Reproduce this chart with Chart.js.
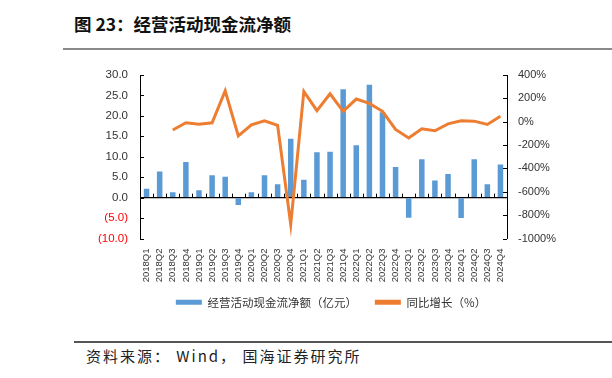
<!DOCTYPE html>
<html><head><meta charset="utf-8">
<script src="https://cdn.jsdelivr.net/npm/chart.js@4/dist/chart.umd.min.js"></script>
<style>
html,body{margin:0;padding:0;background:#fff;}
body{width:612px;height:378px;position:relative;overflow:hidden;font-family:"Noto Sans CJK SC","Noto Sans",sans-serif;}
#title{position:absolute;left:74px;top:12px;font-size:17.5px;font-weight:bold;color:#111;white-space:nowrap;line-height:24px;}
#tline{position:absolute;left:63px;top:48px;width:549px;height:2px;background:#8a8a8a;}
#fline{position:absolute;left:74px;top:341px;width:538px;height:2px;background:#555;}
#foot{position:absolute;left:86px;top:345px;font-size:15px;color:#222;white-space:nowrap;line-height:22px;letter-spacing:2px;}
#wrap{position:absolute;left:0;top:0;width:612px;height:330px;}
</style></head>
<body>
<div id="title">图 23：经营活动现金流净额</div>
<div id="tline"></div>
<div id="wrap"><canvas id="c"></canvas></div>
<div id="fline"></div>
<div id="foot">资料来源：&nbsp;Wind，&nbsp;国海证券研究所</div>
<script>
const categories = ["2018Q1","2018Q2","2018Q3","2018Q4","2019Q1","2019Q2","2019Q3","2019Q4",
  "2020Q1","2020Q2","2020Q3","2020Q4","2021Q1","2021Q2","2021Q3","2021Q4",
  "2022Q1","2022Q2","2022Q3","2022Q4","2023Q1","2023Q2","2023Q3","2023Q4",
  "2024Q1","2024Q2","2024Q3","2024Q4"];
const cashFlow = [2.2,6.4,1.3,8.7,1.8,5.5,5.1,-1.8,1.3,5.5,3.3,14.4,4.4,11.1,11.2,26.5,
  12.8,27.6,20.9,7.5,-4.9,9.4,4.2,5.8,-5.0,9.4,3.3,8.1];
const yoyGrowth = [null,null,-71,-9,-21,-9,264,-122,-26,8,-32,-879,259,95,239,89,
  194,157,89,-66,-139,-60,-77,-18,8,5,-23,47];
const leftTicks = [-10,-5,0,5,10,15,20,25,30];
const rightTicks = [-1000,-800,-600,-400,-200,0,200,400];
const seriesNames = ["经营活动现金流净额（亿元）","同比增长（%）"];

const tickMarks = {
  id:'tickMarks',
  afterDraw(chart){
    const ctx = chart.ctx, yl = chart.scales.y, yr = chart.scales.y1, xs = chart.scales.x;
    ctx.save();
    ctx.strokeStyle = '#000'; ctx.lineWidth = 1;
    ctx.beginPath();
    yl.ticks.forEach(t=>{const y=Math.round(yl.getPixelForValue(t.value))+0.5; ctx.moveTo(yl.right,y); ctx.lineTo(yl.right+4,y);});
    yr.ticks.forEach(t=>{const y=Math.round(yr.getPixelForValue(t.value))+0.5; ctx.moveTo(yr.left,y); ctx.lineTo(yr.left-4,y);});
    const y0 = yl.getPixelForValue(0);
    const half = (xs.getPixelForValue(1)-xs.getPixelForValue(0))/2;
    for(let i=0;i<=categories.length;i++){
      const x = Math.round(xs.getPixelForValue(i)-half)+0.5;
      ctx.moveTo(x,y0); ctx.lineTo(x,y0-4);
    }
    ctx.stroke();
    ctx.restore();
  }
};

new Chart(document.getElementById('c'), {
  data:{
    labels: categories,
    datasets:[
      {type:'bar', label:seriesNames[0], data:cashFlow, backgroundColor:'#5B9BD5', borderWidth:0,
       barPercentage:0.42, categoryPercentage:1, yAxisID:'y', order:2},
      {type:'line', label:seriesNames[1], data:yoyGrowth, borderColor:'#ED7D31', backgroundColor:'#ED7D31',
       borderWidth:3, pointRadius:0, tension:0, yAxisID:'y1', order:1, spanGaps:false}
    ]
  },
  options:{
    responsive:true, maintainAspectRatio:false, animation:false,
    layout:{padding:{left:90,right:40,top:75,bottom:12}},
    plugins:{
      tooltip:{enabled:false},
      legend:{position:'bottom',
        labels:{boxWidth:26,boxHeight:5,padding:12,color:'#333',
          sort:(a,b)=>a.datasetIndex-b.datasetIndex,
          generateLabels(chart){
            const items = Chart.defaults.plugins.legend.labels.generateLabels(chart);
            items.forEach(it=>{ if(it.datasetIndex===0) it.text += '\u3000'; it.lineWidth = 0; });
            return items;
          },
          font:{family:'"Noto Sans CJK SC",sans-serif',size:11.5}}}
    },
    scales:{
      x:{type:'category', offset:true,
        grid:{display:false,drawTicks:false}, border:{display:false},
        ticks:{autoSkip:false,minRotation:90,maxRotation:90,padding:10,color:'#333',
          font:{family:'"Liberation Sans",Arial,sans-serif',size:9.5}},
        afterFit(s){s.height=46;}
      },
      y:{position:'left', min:-10, max:30,
        afterBuildTicks(s){s.ticks=leftTicks.map(v=>({value:v}));},
        grid:{drawTicks:false, color:c=>c.tick&&c.tick.value===0?'#000':'rgba(0,0,0,0)', lineWidth:1.3},
        border:{display:true,color:'#000',width:1},
        ticks:{padding:12,
          color:c=>c.tick.value<0?'#FF0000':'#333',
          font:{family:'"Liberation Sans",Arial,sans-serif',size:11.5},
          callback:v=>v<0?'('+Math.abs(v).toFixed(1)+')':Number(v).toFixed(1)},
        afterFit(s){s.width=50;}
      },
      y1:{position:'right', min:-1000, max:400,
        afterBuildTicks(s){s.ticks=rightTicks.map(v=>({value:v}));},
        grid:{display:false,drawTicks:false},
        border:{display:true,color:'#000',width:1},
        ticks:{padding:11,color:'#333',
          font:{family:'"Liberation Sans",Arial,sans-serif',size:11},
          callback:v=>v+'%'},
        afterFit(s){s.width=65;}
      }
    }
  },
  plugins:[tickMarks]
});
</script>
</body></html>
